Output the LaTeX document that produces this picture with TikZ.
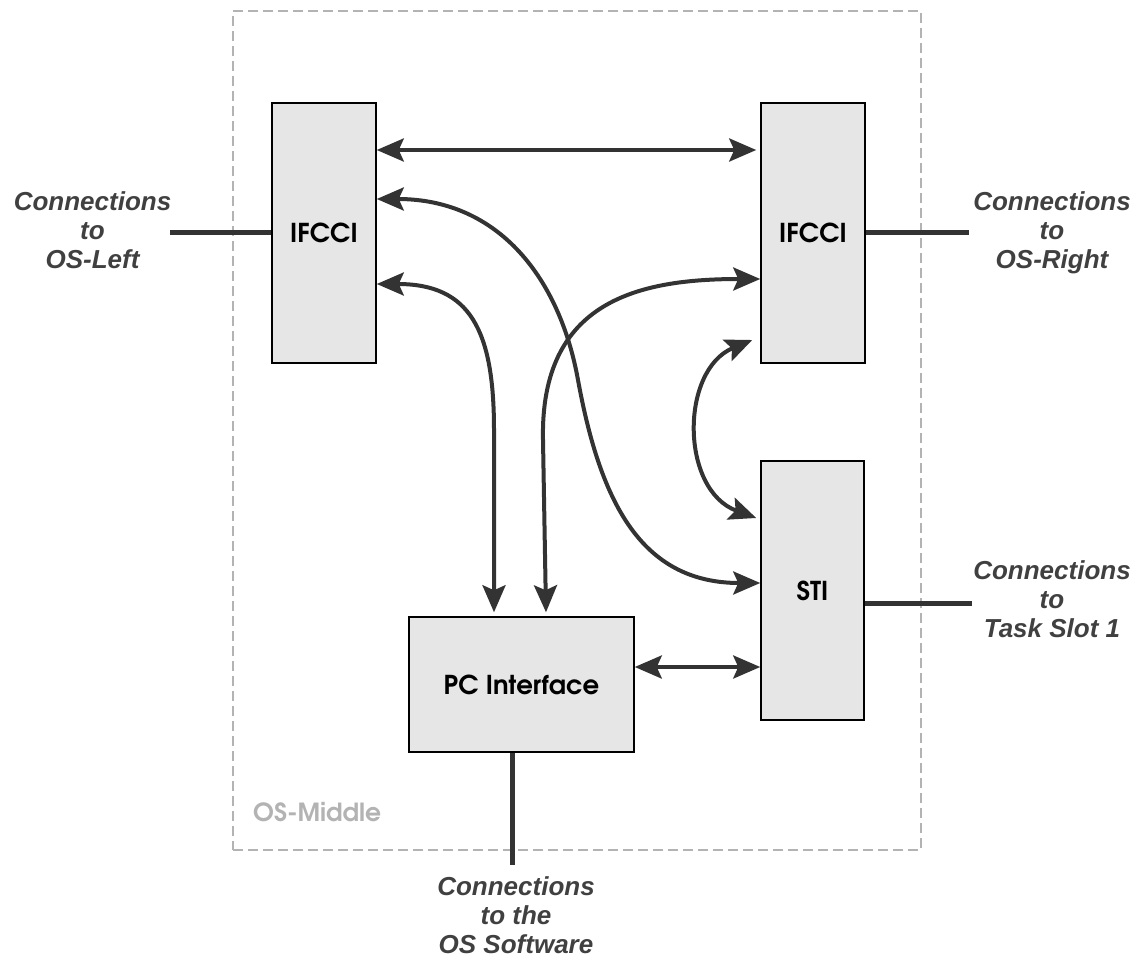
\documentclass[tikz,border=0pt]{standalone}
\usepackage{fontspec}
\setmainfont{Liberation Sans}
\newfontfamily\adv{texgyreadventor}[Extension=.otf,UprightFont=*-regular,BoldFont=*-bold]
\usetikzlibrary{arrows.meta,calc}
\definecolor{ink}{HTML}{333333}
\definecolor{labelgray}{HTML}{404040}
\definecolor{boxfill}{HTML}{E6E6E6}
\definecolor{framegray}{HTML}{B3B3B3}
\tikzset{
  Head/.tip={Stealth[length=27pt,width=23pt,inset=5pt]},
  unit/.style={draw=black,line width=1.5pt,fill=boxfill,inner sep=0pt,
    font=\adv\bfseries\fontsize{26}{30}\selectfont},
  link/.style={draw=ink,line width=4pt,arrows={Head-Head}},
  wire/.style={draw=ink,line width=5pt},
  ext/.style={font=\bfseries\itshape\fontsize{26}{29}\selectfont,text=labelgray,
    align=center,inner sep=0pt},
  frame/.style={draw=framegray,line width=1.5pt,dash pattern=on 10pt off 5pt,
    inner sep=0pt}
}
\begin{document}
\begin{tikzpicture}[x=1pt,y=-1pt]
\useasboundingbox (0,0) rectangle (1145,958);

% the OS-Middle module frame
\node[frame,minimum width=688pt,minimum height=839pt] (mid) at (577,430.5) {};
\node[anchor=base west,inner sep=0pt,text=framegray,
  font=\adv\bfseries\fontsize{25}{25}\selectfont] (osm) at (253,821) {OS-Middle};

% functional blocks
\node[unit,minimum width=104pt,minimum height=260pt] (ifl) at (324,233) {IFCCI};
\node[unit,minimum width=104pt,minimum height=260pt] (ifr) at (813,233) {IFCCI};
\node[unit,minimum width=103pt,minimum height=259pt] (sti) at (812.5,590.5) {\raisebox{-5pt}{STI}};
\node[unit,minimum width=225pt,minimum height=135pt] (pc) at (521.5,684.5) {PC Interface};

% free ends of the external connections
\coordinate (osl) at (170,232);
\coordinate (osr) at (969,232);
\coordinate (slot) at (972,603);
\coordinate (sw) at (512,865);

% external connection wires
\draw[wire] (osl) -- (ifl.west |- osl);
\draw[wire] (ifr.east |- osr) -- (osr);
\draw[wire] (sti.east |- slot) -- (slot);
\draw[wire] (pc.south -| sw) -- (sw);

% external connection labels
\node[ext] (tl) at (92.5,230.5) {Connections\\to\\OS-Left};
\node[ext] (tr) at (1052,233) {Connections\\to\\OS-Right};
\node[ext] (ts) at (1052,599.5) {Connections\\to\\Task Slot 1};
\node[ext] (tb) at (516,915.5) {Connections\\to the\\OS Software};

% internal links
\draw[link] (ifl.east |- 0,150) -- ($(ifr.west |- 0,150)+(-4,0)$);
\draw[link] (ifl.east |- 0,199) .. controls (500,199) and (560,280) .. (578,380)
  .. controls (600,500) and (640,583) .. (sti.west |- 0,583);
\draw[link] (ifl.east |- 0,284) .. controls (470,284) and (494,330) .. (494,430)
  -- ($(pc.north -| 494,0)+(0,-4)$);
\draw[link] ($(pc.north -| 546,0)+(0,-4)$) -- (543,440)
  .. controls (540,300) and (640,279) .. (ifr.west |- 0,279);
\draw[link] ($(ifr.west |- 0,340)+(-8,0)$) .. controls (680,370) and (680,490)
  .. ($(sti.west |- 0,518)+(-4,0)$);
\draw[link] (pc.east |- 0,667) -- (sti.west |- 0,667);
\end{tikzpicture}
\end{document}
